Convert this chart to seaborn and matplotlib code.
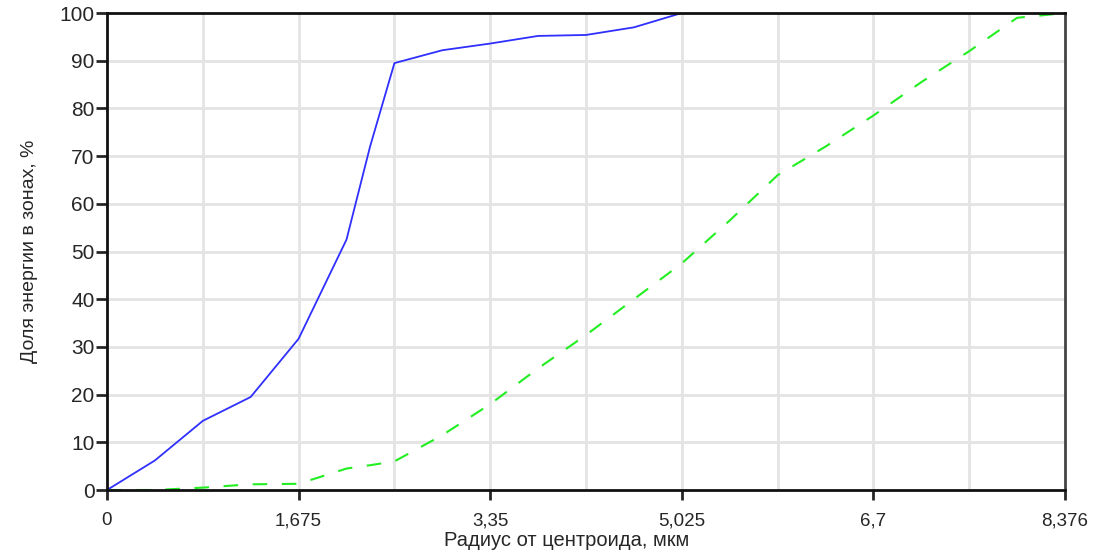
import numpy as np
import matplotlib
matplotlib.use("Agg")
import matplotlib.pyplot as plt
import pandas as pd
import seaborn as sns

# Radius from centroid (um) and share of energy (%)
radius = [0, 0.419, 0.838, 1.256, 1.675, 2.094, 2.30, 2.513, 2.932, 3.35,
          3.769, 4.188, 4.607, 5.025, 5.444, 5.863, 6.282, 6.7, 7.119, 7.538,
          7.957, 8.376]
blue_share = [0, 6.2, 14.5, 19.5, 31.7, 52.5, 72.0, 89.5, 92.2, 93.6,
              95.2, 95.4, 97.0, 100, 100, 100, 100, 100, 100, 100,
              100, 100]
green_share = [0, 0, 0.5, 1.2, 1.3, 4.5, 5.2, 6.0, 11.5, 18.0,
               25.5, 32.5, 40.0, 47.5, 56.5, 66.0, 72.0, 78.5, 85.5, 92.0,
               99.0, 100]

x_ticks = [0, 1.675, 3.35, 5.025, 6.7, 8.376]
x_tick_labels = ["0", "1,675", "3,35", "5,025", "6,7", "8,376"]
y_ticks = [0, 10, 20, 30, 40, 50, 60, 70, 80, 90, 100]

df = pd.DataFrame({"r": radius, "blue": blue_share, "green": green_share})

sns.set_style("white")
plt.rcParams["font.family"] = ["Liberation Sans", "DejaVu Sans"]

fig = plt.figure(figsize=(10.94, 5.52), dpi=100)
ax = fig.add_axes([0.0978, 0.1123, 0.8757, 0.8641])

# light grid: every tenth of the radius range and every 10 %
for gx in np.linspace(0, 8.376, 11)[1:-1]:
    ax.axvline(gx, color="#e4e4e4", lw=2, zorder=0)
for gy in y_ticks[1:-1]:
    ax.axhline(gy, color="#e4e4e4", lw=2, zorder=0)

sns.lineplot(data=df, x="r", y="blue", ax=ax, color="#2f2fff", lw=1.3)
sns.lineplot(data=df, x="r", y="green", ax=ax, color="#22ee22", lw=1.5,
             linestyle=(0, (7, 7)))

ax.set_xlim(0, 8.376)
ax.set_ylim(0, 100)
ax.set_xticks(x_ticks)
ax.set_xticklabels(x_tick_labels, fontsize=13.5)
ax.set_yticks(y_ticks)
ax.set_yticklabels([str(v) for v in y_ticks], fontsize=15)
ax.tick_params(axis="x", direction="out", length=7, width=2, pad=9, bottom=True)
ax.tick_params(axis="y", direction="out", length=8, width=2, pad=1, left=True)

for side in ["left", "bottom", "top"]:
    ax.spines[side].set_color("#111111")
    ax.spines[side].set_linewidth(2)
ax.spines["right"].set_color("#444444")
ax.spines["right"].set_linewidth(2)

ax.set_xlabel("Радиус от центроида, мкм", fontsize=14.5)
ax.xaxis.set_label_coords(0.48, -0.085)
ax.set_ylabel("Доля энергии в зонах, %", fontsize=14)
ax.yaxis.set_label_coords(-0.072, 0.5)

fig.savefig("out.png", dpi=100)
